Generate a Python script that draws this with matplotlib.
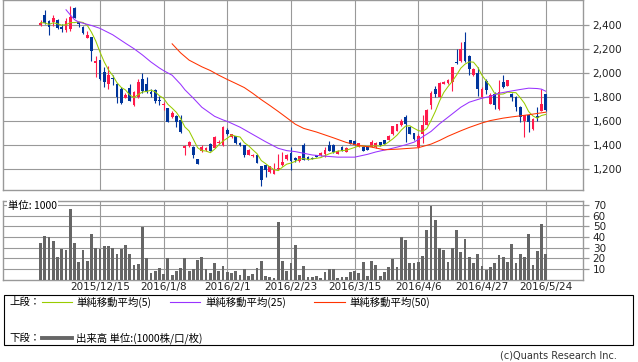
import matplotlib

matplotlib.use("Agg")
import matplotlib.pyplot as plt
import numpy as np
import pandas as pd
from matplotlib.lines import Line2D
from matplotlib.patches import Rectangle
from matplotlib.ticker import FuncFormatter

plt.rcParams["font.family"] = ["DejaVu Sans", "Noto Sans CJK JP"]

# daily OHLC (trading-day index 0..119)
OPEN = [2400, 2475, 2433, 2420, 2440, 2378, 2356, 2365, 2538, 2418,
        2378, 2287, 2297, 2083, 2107, 2005, 1910, 1960, 1909, 1867,
        1795, 1875, 1730, 1799, 1950, 1910, 1840, 1855, 1775, 1735,
        1707, 1633, 1639, 1611, 1377, 1391, 1385, 1288, 1352, 1358,
        1412, 1378, 1418, 1399, 1529, 1467, 1473, 1418, 1399, 1322,
        1308, 1322, 1225, 1233, 1175, 1164, 1200, 1233, 1288, 1338,
        1295, 1269, 1400, 1303, 1298, 1316, 1316, 1330, 1400, 1400,
        1330, 1390, 1348, 1440, 1432, 1390, 1390, 1390, 1390, 1385,
        1426, 1440, 1446, 1490, 1520, 1565, 1637, 1553, 1500, 1390,
        1495, 1572, 1730, 1862, 1804, 1909, 1914, 1923, 2090, 2096,
        2254, 2143, 1978, 2000, 1800, 1931, 1744, 1826, 1702, 1923,
        1895, 1821, 1799, 1720, 1605, 1647, 1537, 1645, 1688, 1821]
HIGH = [2440, 2520, 2440, 2480, 2445, 2405, 2450, 2550, 2545, 2420,
        2385, 2345, 2300, 2140, 2110, 2045, 2060, 1985, 1915, 1880,
        1830, 1905, 1850, 1950, 2000, 1965, 1870, 1865, 1810, 1760,
        1710, 1680, 1655, 1655, 1400, 1432, 1395, 1290, 1400, 1390,
        1420, 1480, 1440, 1560, 1545, 1495, 1480, 1430, 1405, 1370,
        1325, 1325, 1230, 1240, 1230, 1250, 1330, 1345, 1330, 1390,
        1300, 1315, 1415, 1310, 1300, 1320, 1342, 1390, 1435, 1410,
        1365, 1395, 1385, 1445, 1440, 1422, 1395, 1395, 1440, 1425,
        1430, 1445, 1485, 1560, 1580, 1615, 1650, 1560, 1505, 1490,
        1647, 1700, 1848, 1895, 1920, 1935, 1945, 2050, 2200, 2255,
        2340, 2150, 2040, 2047, 1880, 1945, 1830, 1840, 1940, 1978,
        1940, 1830, 1805, 1725, 1650, 1655, 1625, 1720, 1865, 1825]
LOW = [2390, 2405, 2317, 2390, 2365, 2340, 2340, 2350, 2450, 2380,
       2325, 2285, 2100, 1965, 1940, 1880, 1865, 1900, 1752, 1745,
       1790, 1765, 1725, 1795, 1830, 1835, 1800, 1750, 1735, 1690,
       1590, 1625, 1555, 1505, 1320, 1388, 1295, 1245, 1345, 1350,
       1355, 1375, 1410, 1395, 1488, 1460, 1410, 1395, 1302, 1320,
       1300, 1250, 1059, 1136, 1170, 1160, 1192, 1225, 1280, 1197,
       1265, 1260, 1278, 1275, 1285, 1300, 1310, 1305, 1350, 1340,
       1325, 1350, 1345, 1410, 1400, 1385, 1350, 1360, 1385, 1380,
       1395, 1410, 1440, 1485, 1515, 1560, 1430, 1490, 1446, 1375,
       1420, 1565, 1702, 1804, 1800, 1905, 1910, 1848, 2075, 2090,
       2090, 1986, 1970, 1812, 1790, 1826, 1740, 1700, 1695, 1875,
       1890, 1770, 1688, 1595, 1467, 1510, 1525, 1605, 1685, 1685]
CLOSE = [2415, 2410, 2378, 2455, 2370, 2360, 2428, 2466, 2455, 2405,
         2330, 2310, 2180, 2095, 1945, 1922, 1978, 1950, 1798, 1749,
         1818, 1770, 1840, 1926, 1852, 1840, 1825, 1770, 1765, 1745,
         1591, 1666, 1597, 1509, 1395, 1426, 1323, 1247, 1390, 1377,
         1357, 1467, 1430, 1550, 1490, 1490, 1415, 1399, 1316, 1363,
         1320, 1255, 1115, 1192, 1225, 1205, 1215, 1260, 1316, 1269,
         1275, 1308, 1282, 1280, 1290, 1303, 1335, 1363, 1357, 1345,
         1357, 1357, 1380, 1413, 1405, 1418, 1357, 1362, 1426, 1418,
         1399, 1413, 1481, 1556, 1575, 1605, 1578, 1495, 1450, 1481,
         1572, 1694, 1831, 1821, 1914, 1928, 1937, 2047, 2080, 2199,
         2096, 2033, 2033, 1868, 1870, 1857, 1815, 1730, 1840, 1881,
         1937, 1799, 1721, 1635, 1647, 1592, 1620, 1630, 1744, 1690]
VOLUME = [34.2, 40.4, 40.1, 36, 21, 28.5, 27.6, 66.1, 34.2, 16.3,
          27.6, 17.2, 42.6, 29.5, 28.5, 31.3, 31.3, 29.5, 23.8, 28.5,
          32.3, 23.8, 13.5, 14.4, 49.5, 20, 6, 8.2, 10.7, 5,
          20, 4.1, 8.2, 10.7, 20, 8.2, 9.7, 18.2, 21, 9.7,
          6, 15.4, 8.2, 12.5, 6.9, 6, 8.2, 4.4, 9.7, 3.1,
          5, 10.7, 17.2, 3.1, 2.2, 1.3, 53.9, 17.2, 8.2, 15.4,
          32.3, 4.4, 12.5, 2.2, 2.2, 3.1, 1.6, 6.9, 9.4, 9.4,
          1.6, 2.2, 2.2, 6.9, 7.8, 6, 16.3, 3.1, 17.2, 13.5,
          3.1, 6.9, 11.6, 19.7, 11.6, 40.1, 37, 15.4, 15.4, 16.3,
          21.9, 46.4, 69, 55.8, 29.5, 27.6, 16.3, 29.5, 46.4, 25.7,
          37.9, 21, 15.4, 23.8, 12.5, 8.8, 11.6, 15.4, 22.9, 21,
          16.3, 33.2, 15.4, 23.8, 21, 42.6, 13.5, 26.6, 52, 23.8]

# moving averages (day index, value)
MA25_DAY = [6, 7, 8, 9, 12, 14, 17, 20, 22, 24, 26, 28, 29, 31, 33, 34, 36,
            38, 40, 41, 43, 44, 47, 50, 53, 56, 58, 60, 64, 67, 70, 74, 77,
            79, 82, 84, 86, 88, 90, 92, 94, 97, 99, 101, 104, 106, 108, 111,
            113, 115, 117, 118, 119]
MA25_VAL = [2522, 2480, 2440, 2420, 2392, 2368, 2315, 2245, 2200, 2148, 2090,
            2040, 2018, 1980, 1905, 1860, 1790, 1715, 1665, 1640, 1610, 1598,
            1550, 1490, 1430, 1375, 1356, 1348, 1320, 1310, 1302, 1302, 1325,
            1345, 1368, 1385, 1404, 1426, 1470, 1515, 1578, 1660, 1715, 1757,
            1790, 1805, 1831, 1850, 1862, 1873, 1870, 1865, 1848]
MA50_DAY = [31, 33, 35, 38, 40, 42, 44, 46, 48, 50, 52, 54, 56, 58, 60, 62,
            65, 69, 72, 75, 78, 81, 84, 89, 92, 94, 96, 99, 101, 104, 106,
            109, 111, 115, 119]
MA50_VAL = [2240, 2165, 2105, 2050, 2019, 1980, 1945, 1912, 1878, 1830, 1778,
            1730, 1680, 1628, 1575, 1540, 1510, 1462, 1424, 1398, 1385, 1363,
            1368, 1380, 1410, 1440, 1475, 1520, 1548, 1585, 1605, 1625, 1635,
            1653, 1674]

TICK_DAYS = [14, 29, 44, 59, 74, 89, 104, 119]
TICK_LABELS = ["2015/12/15", "2016/1/8", "2016/2/1", "2016/2/23",
               "2016/3/15", "2016/4/6", "2016/4/27", "2016/5/24"]
PRICE_TICKS = [1200, 1400, 1600, 1800, 2000, 2200, 2400]
VOL_TICKS = [10, 20, 30, 40, 50, 60, 70]

UP = "#ff1a4b"
DOWN = "#00359c"
GRID = "#999999"

o = np.array(OPEN, float)
h = np.array(HIGH, float)
lo = np.array(LOW, float)
c = np.array(CLOSE, float)
x = np.arange(len(c))
ma5 = pd.Series(c).rolling(5, min_periods=1).mean()

fig = plt.figure(figsize=(6.38, 3.62), dpi=100)
ax = fig.add_axes([0.0047, 0.4738, 0.9091, 0.5249])
axv = fig.add_axes([0.0047, 0.2279, 0.9091, 0.2177])

for a in (ax, axv):
    a.set_xlim(-8.85, 127.8)
    a.set_xticks(TICK_DAYS)
    a.grid(True, color=GRID, lw=0.8)
    a.set_axisbelow(True)
    for s in a.spines.values():
        s.set_color(GRID)
        s.set_linewidth(1.0)
    a.yaxis.tick_right()
    a.tick_params(axis="y", colors=GRID, length=4, width=0.9, labelcolor="#222222",
                  labelsize=7.5, pad=3)
    a.tick_params(axis="x", length=0)

# candles: red = up, blue = down
up = c >= o
col = np.where(up, UP, DOWN)
ax.vlines(x, lo, h, colors=col, lw=0.8, zorder=3)
body_lo = np.minimum(o, c)
body_h = np.maximum(np.abs(c - o), 4)
ax.bar(x, body_h, bottom=body_lo, width=0.66, color=col, lw=0, zorder=4)

ax.plot(x, ma5, color="#99cc00", lw=0.75, zorder=5)
ax.plot(MA25_DAY, MA25_VAL, color="#9933ff", lw=0.75, zorder=5)
ax.plot(MA50_DAY, MA50_VAL, color="#ff3300", lw=0.75, zorder=5)

ax.set_ylim(1026, 2599)
ax.set_yticks(PRICE_TICKS)
ax.yaxis.set_major_formatter(FuncFormatter(lambda v, p: f"{v:,.0f}"))
ax.set_xticklabels([])

# volume
axv.bar(x, VOLUME, width=0.66, color="#666666", lw=0, zorder=3)
axv.set_ylim(0, 74)
axv.set_yticks(VOL_TICKS)
axv.set_xticklabels(TICK_LABELS, fontsize=7.5, color="#222222")
axv.tick_params(axis="x", pad=2)
axv.text(0.0086, 0.93, "単位: 1000", transform=axv.transAxes, fontsize=7.5,
         va="center", ha="left", family=["Noto Sans CJK JP", "DejaVu Sans"],
         bbox=dict(facecolor="white", edgecolor="none", pad=0.6), zorder=6)

# legend box
jp = ["Noto Sans CJK JP", "DejaVu Sans"]
fig.add_artist(Rectangle((0.0055, 1 - 345 / 362), 629.5 / 638, 50 / 362,
                         transform=fig.transFigure, fill=False, ec="black", lw=0.8))
y1 = 1 - 302 / 362
y2 = 1 - 338 / 362
fs = 7.5
fig.text(9 / 638, y1, "上段：", family=jp, fontsize=fs, va="center")
fig.text(9 / 638, y2, "下段：", family=jp, fontsize=fs, va="center")
items = [((42, 72), (76, "単純移動平均(5)"), "#99cc00"),
         ((170, 200), (205, "単純移動平均(25)"), "#9933ff"),
         ((314, 345), (349, "単純移動平均(50)"), "#ff3300")]
for (x0, x1), (tx, lab), colr in items:
    fig.add_artist(Line2D([x0 / 638, x1 / 638], [y1, y1], transform=fig.transFigure,
                          color=colr, lw=0.8))
    fig.text(tx / 638, y1, lab, family=jp, fontsize=fs, va="center")
fig.add_artist(Line2D([42 / 638, 72 / 638], [y2, y2], transform=fig.transFigure,
                      color="#666666", lw=2.8))
fig.text(76 / 638, y2, "出来高 単位:(1000株/口/枚)", family=jp, fontsize=fs, va="center")

fig.text(617 / 638, 1 - 355 / 362, "(c)Quants Research Inc.", fontsize=7,
         ha="right", va="center", color="#333333")

fig.savefig("out.png", dpi=100)
